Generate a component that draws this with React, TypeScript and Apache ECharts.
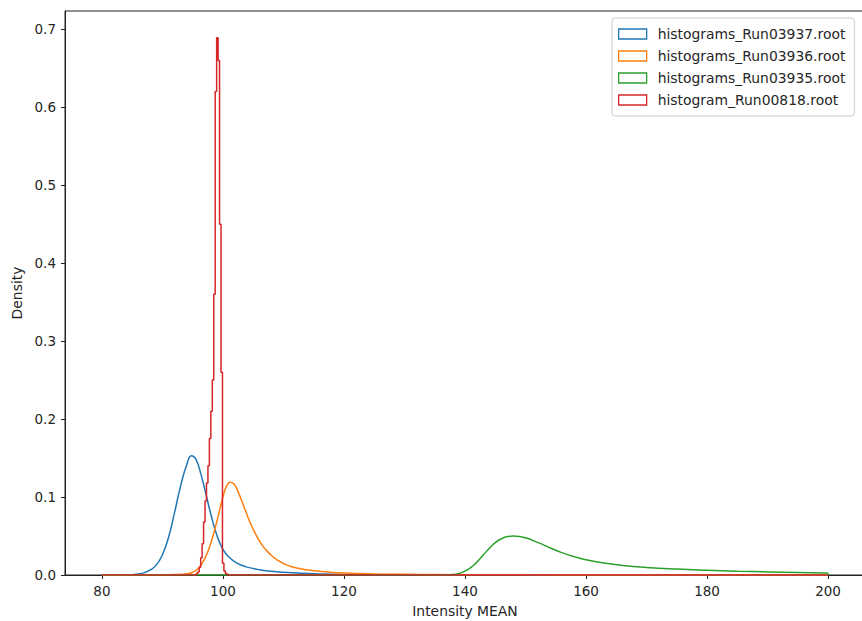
import React, { useEffect, useRef } from "react";
import * as echarts from "echarts";

// Histogram range shared by all four runs
const histRange = [80, 200];

// Axis ticks
const xTicks = [80, 100, 120, 140, 160, 180, 200];
const yTicks = [0, 0.1, 0.2, 0.3, 0.4, 0.5, 0.6, 0.7];

// Legend labels and colours (matplotlib tab10)
const runNames = [
  "histograms_Run03937.root",
  "histograms_Run03936.root",
  "histograms_Run03935.root",
  "histogram_Run00818.root",
];
const runColors = ["#1f77b4", "#ff7f0e", "#2ca02c", "#d62728"];

// Run03937 density (fine bins, drawn as a smooth outline)
const blueX = [84, 85, 86, 87, 88, 89, 90, 91, 92, 93, 94, 94.8, 95.5, 96.3, 97, 98, 99, 100, 101, 102, 103, 104, 106, 108, 110, 113, 116, 120, 125, 130];
const blueY = [0, 0.0004, 0.0012, 0.003, 0.0065, 0.013, 0.026, 0.048, 0.08, 0.114, 0.141, 0.153, 0.149, 0.131, 0.11, 0.078, 0.051, 0.033, 0.023, 0.0168, 0.0128, 0.0101, 0.0068, 0.0048, 0.0035, 0.0022, 0.0014, 0.0007, 0.0003, 0];

// Run03936 density
const orangeX = [90, 92, 94, 95, 96, 97, 98, 99, 100, 100.6, 101.2, 101.8, 102.5, 103.5, 104.5, 105.5, 106.5, 107.5, 109, 111, 113, 115, 117, 120, 125, 130, 135, 140, 150, 160, 170];
const orangeY = [0, 0.0005, 0.0015, 0.0035, 0.009, 0.021, 0.041, 0.069, 0.1, 0.114, 0.119, 0.117, 0.107, 0.087, 0.067, 0.051, 0.038, 0.029, 0.019, 0.0115, 0.0078, 0.0056, 0.0041, 0.0026, 0.0014, 0.0009, 0.0006, 0.0004, 0.0002, 0.0001, 0];

// Run03935 density
const greenX = [136, 138, 139, 140, 141, 142, 143, 144, 145, 146, 147, 148, 149, 150, 152, 154, 156, 158, 160, 163, 166, 170, 175, 180, 185, 190, 195, 199.9];
const greenY = [0, 0.0006, 0.002, 0.005, 0.0098, 0.0168, 0.0255, 0.034, 0.0415, 0.0465, 0.0493, 0.05, 0.0494, 0.0477, 0.0418, 0.035, 0.0287, 0.0236, 0.0196, 0.0153, 0.0123, 0.0097, 0.0076, 0.0061, 0.0049, 0.0039, 0.0031, 0.0025];

// Run00818: narrow peak, step outline over 0.24-wide bins
const redEdges = [95.6, 95.84, 96.08, 96.32, 96.56, 96.8, 97.04, 97.28, 97.52, 97.76, 98.0, 98.24, 98.48, 98.72, 98.96, 99.2, 99.44, 99.68, 99.92, 100.16, 100.4, 100.64, 100.88];
const redDensity = [0.002, 0.004, 0.01, 0.022, 0.04, 0.068, 0.095, 0.118, 0.14, 0.175, 0.21, 0.25, 0.36, 0.62, 0.689, 0.66, 0.45, 0.26, 0.015, 0.005, 0.002, 0.001];

const FONT = "DejaVu Sans";
const TEXT = "#262626";
const AXIS = "#222222";

function smoothOutline(xs: number[], ys: number[]) {
  const pts = xs.map((x, i) => [x, ys[i]]);
  return [[histRange[0], 0], ...pts, [histRange[1], 0]];
}

function stepOutline(edges: number[], dens: number[]) {
  const pts = dens.map((d, i) => [edges[i], d]);
  return [[histRange[0], 0], ...pts, [edges[edges.length - 1], 0], [histRange[1], 0]];
}

export default function App() {
  const ref = useRef<HTMLDivElement>(null);

  useEffect(() => {
    const chart = echarts.init(ref.current!, null, { renderer: "svg" });

    const lineSeries = (i: number, data: number[][], step?: string) => ({
      name: runNames[i],
      type: "line",
      data,
      step: step || false,
      smooth: step ? false : 0.5,
      symbol: "none",
      showSymbol: false,
      z: 2 + i,
      lineStyle: { color: runColors[i], width: 1.5 },
      itemStyle: { color: runColors[i] },
      emphasis: { disabled: true },
    });

    chart.setOption({
      animation: false,
      backgroundColor: "#ffffff",
      textStyle: { fontFamily: FONT },
      grid: {
        left: 65,
        top: 11,
        width: 800,
        height: 564,
        containLabel: false,
        outerBoundsMode: "none",
        show: true,
        borderColor: AXIS,
        borderWidth: 1,
        backgroundColor: "transparent",
      },
      legend: {
        orient: "vertical",
        left: 612,
        top: 18,
        icon: "rect",
        itemWidth: 28,
        itemHeight: 10,
        itemGap: 6,
        padding: [8, 9, 8, 6],
        backgroundColor: "rgba(255,255,255,0.8)",
        borderColor: "#cccccc",
        borderWidth: 1,
        borderRadius: 3,
        selectedMode: false,
        textStyle: { fontFamily: FONT, fontSize: 13.9, color: TEXT, lineHeight: 16, padding: [0, 0, 0, 6] },
        data: runNames.map((n, i) => ({
          name: n,
          itemStyle: { color: "#ffffff", borderColor: runColors[i], borderWidth: 1.3 },
        })),
      },
      xAxis: {
        type: "value",
        min: 73.9,
        max: 206.1,
        name: "Intensity MEAN",
        nameLocation: "middle",
        nameGap: 29,
        nameTextStyle: { fontFamily: FONT, fontSize: 13.9, color: TEXT },
        axisLine: { show: true, onZero: false, lineStyle: { color: AXIS, width: 1 } },
        axisTick: { show: true, length: 4, customValues: xTicks, lineStyle: { color: AXIS } },
        axisLabel: {
          customValues: xTicks,
          fontFamily: FONT,
          fontSize: 13.5,
          color: TEXT,
          margin: 9,
        },
        splitLine: { show: false },
      },
      yAxis: {
        type: "value",
        min: 0,
        max: 0.7234,
        name: "Density",
        nameLocation: "middle",
        nameGap: 40,
        nameTextStyle: { fontFamily: FONT, fontSize: 13.9, color: TEXT },
        axisLine: { show: true, lineStyle: { color: AXIS, width: 1 } },
        axisTick: { show: true, length: 4, customValues: yTicks, lineStyle: { color: AXIS } },
        axisLabel: {
          customValues: yTicks,
          formatter: (v: number) => v.toFixed(1),
          fontFamily: FONT,
          fontSize: 13.5,
          color: TEXT,
          margin: 9,
        },
        splitLine: { show: false },
      },
      series: [
        lineSeries(0, smoothOutline(blueX, blueY)),
        lineSeries(1, smoothOutline(orangeX, orangeY)),
        lineSeries(2, smoothOutline(greenX, greenY)),
        lineSeries(3, stepOutline(redEdges, redDensity), "end"),
      ],
    });

    return () => chart.dispose();
  }, []);

  return (
    <div
      ref={ref}
      style={{ position: "fixed", left: 0, top: 0, width: 862, height: 621, background: "#fff" }}
    />
  );
}
